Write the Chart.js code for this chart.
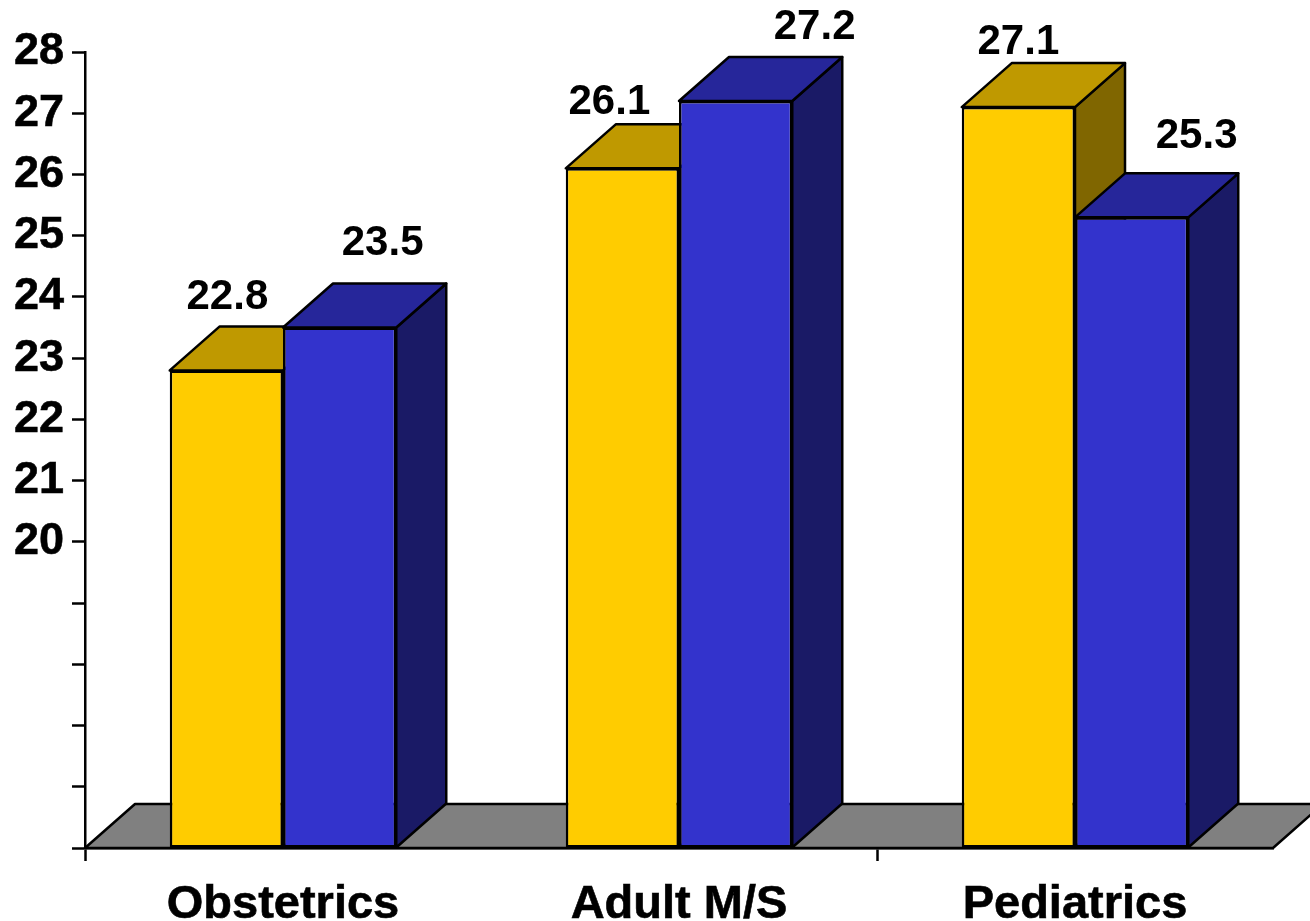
<!DOCTYPE html>
<html>
<head>
<meta charset="utf-8">
<title>Bar chart</title>
<script src="https://cdn.jsdelivr.net/npm/chart.js@4"></script>
<style>
    html, body { margin: 0; padding: 0; background: #fff; overflow: hidden; }
    canvas { display: block; }
</style>
</head>
<body>
<canvas id="barChart" width="1310" height="921"></canvas>
<script>
// ====== Chart Data ======
const CATEGORIES = ["Obstetrics", "Adult M/S", "Pediatrics"];
const GOLD_VALUES = [22.8, 26.1, 27.1];
const BLUE_VALUES = [23.5, 27.2, 25.3];
const Y_TICK_LABELS = ["20", "21", "22", "23", "24", "25", "26", "27", "28"];
const Y_MIN = 15;
const Y_MAX = 28;

// ====== Colors ======
const GOLD = {front: "#ffcc00", top: "#bf9900", side: "#806600"};
const BLUE = {front: "#3333cc", top: "#26269a", side: "#1a1a66"};
const FLOOR_COLOR = "#808080";

// Depth of the fake 3D extrusion, in pixels
const DEPTH_X = 50;
const DEPTH_Y = 44;
const LINE_WIDTH = 2.5;

// Where each value label sits relative to its bar's top centre
const GOLD_LABEL_SHIFT = [[1, -73], [-13, -66], [0, -65]];
const BLUE_LABEL_SHIFT = [[43, -84], [79, -74], [65, -81]];

const FONT_FAMILY = "'Liberation Sans', Arial, sans-serif";
const LABEL_FONT = `bold 42px ${FONT_FAMILY}`;

function fillFace(ctx, points, color) {
    ctx.beginPath();
    points.forEach((p, i) => i ? ctx.lineTo(p[0], p[1]) : ctx.moveTo(p[0], p[1]));
    ctx.closePath();
    ctx.fillStyle = color;
    ctx.fill();
    ctx.stroke();
}

// ---- Floor and extruded bars ----
// Chart.js paints the first dataset last, so the bars are painted here
// left to right instead: each series has to overlap the one before it.
const extrudePlugin = {
    id: "extrude",
    beforeDatasetDraw() {
        return false;
    },
    afterDatasetsDraw(chart) {
        const {ctx, chartArea} = chart;
        ctx.save();
        ctx.strokeStyle = "#000";
        ctx.lineWidth = LINE_WIDTH;
        ctx.lineJoin = "round";
        fillFace(ctx, [
            [chartArea.left, chartArea.bottom],
            [chartArea.left + DEPTH_X, chartArea.bottom - DEPTH_Y],
            [chartArea.right + DEPTH_X, chartArea.bottom - DEPTH_Y],
            [chartArea.right, chartArea.bottom]
        ], FLOOR_COLOR);
        chart.data.datasets.forEach((dataset, d) => {
            chart.getDatasetMeta(d).data.forEach(bar => {
                const left = bar.x - bar.width / 2;
                const right = bar.x + bar.width / 2;
                fillFace(ctx, [
                    [right, bar.y],
                    [right + DEPTH_X, bar.y - DEPTH_Y],
                    [right + DEPTH_X, bar.base - DEPTH_Y],
                    [right, bar.base]
                ], dataset.faces.side);
                fillFace(ctx, [
                    [left, bar.y],
                    [left + DEPTH_X, bar.y - DEPTH_Y],
                    [right + DEPTH_X, bar.y - DEPTH_Y],
                    [right, bar.y]
                ], dataset.faces.top);
                bar.draw(ctx);
            });
        });
        ctx.restore();
    }
};

// ---- Value labels above the bars ----
const valueLabelPlugin = {
    id: "valueLabels",
    afterDatasetsDraw(chart) {
        const {ctx} = chart;
        ctx.save();
        ctx.font = LABEL_FONT;
        ctx.fillStyle = "#000";
        ctx.textAlign = "center";
        ctx.textBaseline = "middle";
        chart.data.datasets.forEach((dataset, d) => {
            chart.getDatasetMeta(d).data.forEach((bar, i) => {
                const shift = dataset.labelShift[i];
                ctx.fillText(dataset.data[i].toFixed(1), bar.x + shift[0], bar.y + shift[1]);
            });
        });
        ctx.restore();
    }
};

new Chart(document.getElementById("barChart"), {
    type: "bar",
    data: {
        labels: CATEGORIES,
        datasets: [
            {
                data: GOLD_VALUES,
                base: Y_MIN,
                backgroundColor: GOLD.front,
                faces: GOLD,
                labelShift: GOLD_LABEL_SHIFT
            },
            {
                data: BLUE_VALUES,
                base: Y_MIN,
                backgroundColor: BLUE.front,
                faces: BLUE,
                labelShift: BLUE_LABEL_SHIFT
            }
        ]
    },
    options: {
        responsive: false,
        animation: false,
        devicePixelRatio: 1,
        layout: {padding: {top: 52, right: 37, left: 0, bottom: 0}},
        plugins: {legend: {display: false}, tooltip: {enabled: false}},
        datasets: {
            bar: {
                categoryPercentage: 0.572,
                barPercentage: 1,
                borderColor: "#000",
                borderWidth: LINE_WIDTH,
                borderSkipped: false
            }
        },
        scales: {
            x: {
                afterFit: scale => { scale.height = 73; },
                border: {color: "#000", width: LINE_WIDTH},
                grid: {
                    offset: true,
                    drawOnChartArea: false,
                    tickLength: 13,
                    tickWidth: LINE_WIDTH,
                    // only the far-left and second-gap boundaries carry a tick
                    tickColor: ctx => (ctx.index === 0 || ctx.index === 2) ? "#000" : "rgba(0,0,0,0)"
                },
                ticks: {
                    color: "#000",
                    font: {family: FONT_FAMILY, size: 47, weight: "bold"},
                    padding: 16,
                    maxRotation: 0,
                    autoSkip: false,
                    textStrokeColor: "#000",
                    textStrokeWidth: 0.6
                }
            },
            y: {
                min: Y_MIN,
                max: Y_MAX,
                afterFit: scale => { scale.width = 85; },
                border: {color: "#000", width: LINE_WIDTH},
                grid: {drawOnChartArea: false, tickLength: 13, tickWidth: LINE_WIDTH, tickColor: "#000"},
                ticks: {
                    stepSize: 1,
                    autoSkip: false,
                    color: "#000",
                    font: {family: FONT_FAMILY, size: 45, weight: "bold"},
                    padding: 8,
                    textStrokeColor: "#000",
                    textStrokeWidth: 0.6,
                    callback: value => Y_TICK_LABELS.includes(String(value)) ? String(value) : ""
                }
            }
        }
    },
    plugins: [extrudePlugin, valueLabelPlugin]
});
</script>
</body>
</html>
